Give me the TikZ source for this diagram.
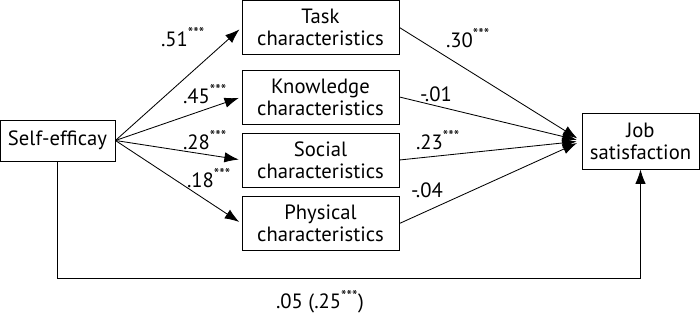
\documentclass[tikz,border=0pt]{standalone}
\usepackage{fontspec}
\setmainfont{PT Sans}
\usetikzlibrary{positioning, arrows.meta, calc}
\newcommand{\sig}{\textsuperscript{\fontsize{11}{11}\selectfont ***}}

\begin{document}
\begin{tikzpicture}[x=0.025cm, y=-0.025cm, >={Latex[length=3.6mm, width=2.6mm]},
  every node/.style={font=\fontsize{14.7}{15.6}\selectfont},
  box/.style={draw, line width=0.6pt, align=center, inner sep=0pt,
    minimum width=3.925cm, minimum height=1.35cm},
  lab/.style={inner sep=0pt},
  conn/.style={line width=0.6pt}
]
  \useasboundingbox (0,0) rectangle (700,313);

  \node[box, minimum width=2.875cm, minimum height=1.025cm] (self) at (57.5,140.5) {Self-efficay};
  \node[box] (task) at (320.5,27.5) {Task\\characteristics};
  \node[box] (know) at (320.5,97) {Knowledge\\characteristics};
  \node[box] (soc) at (320.5,160) {Social\\characteristics};
  \node[box] (phys) at (320.5,223.5) {Physical\\characteristics};
  \node[box, minimum width=2.925cm, minimum height=1.4cm] (job) at (640.5,141) {Job\\satisfaction};

  % self-efficacy to the four mediators
  \foreach \m in {task, know, soc, phys}
    \draw[conn, ->, shorten >=2pt] (self.east) -- (\m.west);

  % mediators to job satisfaction, all into one point
  \foreach \m in {task, know, soc, phys}
    \draw[conn, ->, shorten >=1.25mm] (\m.east) -- (job.west);

  % direct path underneath
  \coordinate (low) at (0,278);
  \draw[conn, ->] (self.south) -- (self.south |- low) -| (job.south);

  \node[lab] at (183,37) {.51\sig};
  \node[lab] at (205,94) {.45\sig};
  \node[lab] at (205,140) {.28\sig};
  \node[lab] at (209,178) {.18\sig};
  \node[lab] at (468,38) {.30\sig};
  \node[lab] at (436,94) {-.01};
  \node[lab] at (438,140) {.23\sig};
  \node[lab] at (427,190) {-.04};
  \node[lab] at (320,302) {.05 (.25\sig)};
\end{tikzpicture}
\end{document}
